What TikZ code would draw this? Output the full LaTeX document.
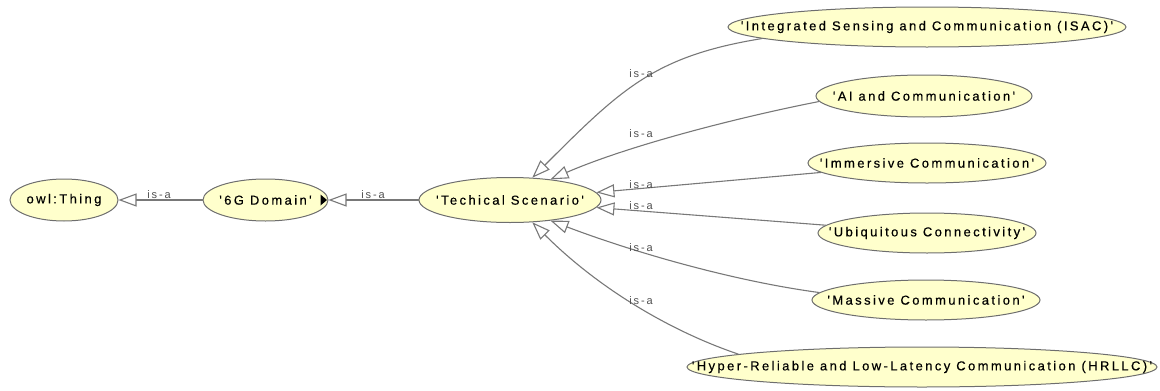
\documentclass[tikz,border=0pt]{standalone}
\usepackage{fontspec}
\usetikzlibrary{arrows.meta,shapes.geometric}
\newfontfamily\nodefont[LetterSpace=18.5,FakeBold=0.35]{Liberation Sans}
\newfontfamily\lblfont[LetterSpace=17]{Liberation Sans}
\definecolor{ellfill}{RGB}{255,255,204}
\definecolor{ellline}{RGB}{110,110,110}
\definecolor{edgegray}{RGB}{120,120,120}
\definecolor{lblgray}{RGB}{80,80,80}
\begin{document}
\begin{tikzpicture}[x=1pt,y=-1pt,
  cls/.style={ellipse, draw=ellline, fill=ellfill, line width=1pt, inner sep=0pt,
    minimum height=42pt, font=\nodefont\fontsize{13}{15}\selectfont},
  isa/.style={draw=edgegray, line width=1.1pt,
    -{Triangle[open, length=18pt, width=13pt]}},
  lbl/.style={inner sep=0pt, text=lblgray, font=\lblfont\fontsize{11}{13}\selectfont}]
\useasboundingbox (0,0) rectangle (1160,391);
% nodes
\node[cls, minimum width=108pt] (owl) at (64,200) {\makebox[0pt]{owl:Thing}};
\node[cls, minimum width=125pt] (g6) at (265.5,200) {\makebox[0pt]{'6G Domain'}};
\node[cls, minimum width=182pt, minimum height=45pt] (scen) at (510,200) {\makebox[0pt]{'Techical Scenario'}};
\node[cls, minimum width=398pt, minimum height=40pt] (isac) at (927,27) {\makebox[0pt]{'Integrated Sensing and Communication (ISAC)'}};
\node[cls, minimum width=216pt] (ai) at (924,96) {\makebox[0pt]{'AI and Communication'}};
\node[cls, minimum width=238pt, minimum height=40pt] (imm) at (927,163) {\makebox[0pt]{'Immersive Communication'}};
\node[cls, minimum width=218pt, minimum height=40pt] (ubi) at (927,233) {\makebox[0pt]{'Ubiquitous Connectivity'}};
\node[cls, minimum width=228pt, minimum height=40pt] (mas) at (926,300) {\makebox[0pt]{'Massive Communication'}};
\node[cls, minimum width=470pt, minimum height=40pt] (hrl) at (922,367) {\makebox[0pt]{'Hyper-Reliable and Low-Latency Communication (HRLLC)'}};
% expand marker
\fill[black] ([xshift=-8pt,yshift=5.5pt]g6.east) -- ([xshift=-1.5pt]g6.east) -- ([xshift=-8pt,yshift=-5.5pt]g6.east) -- cycle;
% edges
\draw[isa] (g6.west) -- (owl.east);
\draw[isa] (scen.west) -- (g6.east);
\draw[isa] (isac.184) .. controls (655,56) and (622,88) .. (scen.45);
\draw[isa] (ai.183) .. controls (740,117) and (630,145) .. (scen.27);
\draw[isa] (imm) -- (scen.5);
\draw[isa] (ubi) -- (scen.-5);
\draw[isa] (mas.176) .. controls (733,281) and (633,252) .. (scen.-27);
\draw[isa] (hrl.176.3) .. controls (670,331) and (598,288) .. (scen.-45);
% labels
\node[lbl] (l0) at (159,195) {is-a};
\node[lbl] (l1) at (373,195) {is-a};
\node[lbl] (l2) at (641,74) {is-a};
\node[lbl] (l3) at (641,134) {is-a};
\node[lbl] (l4) at (641,185) {is-a};
\node[lbl] (l5) at (641,206) {is-a};
\node[lbl] (l6) at (641,248) {is-a};
\node[lbl] (l7) at (641,301) {is-a};
\end{tikzpicture}
\end{document}
